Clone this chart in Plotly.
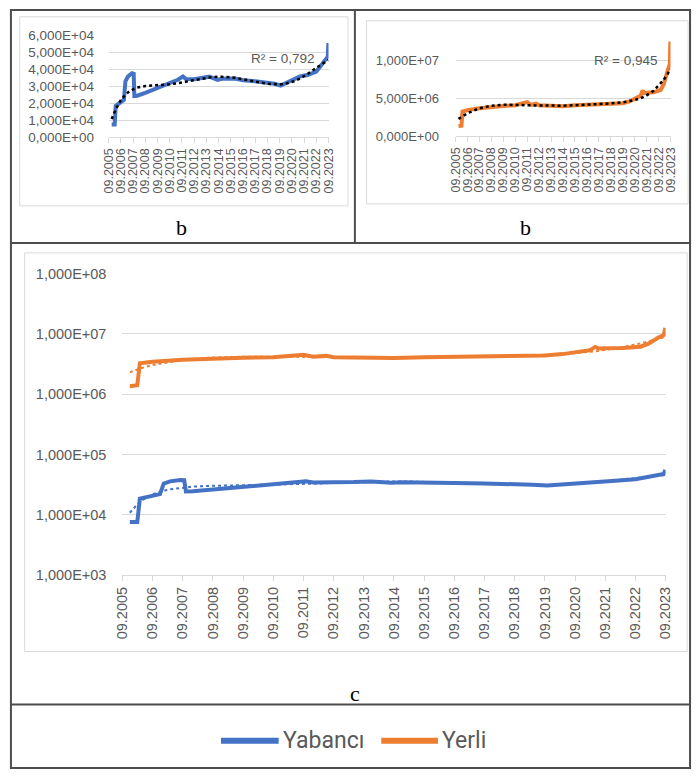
import numpy as np
import pandas as pd
import plotly.graph_objects as go

# ---- data -------------------------------------------------------------
yabanci_dates = [
    "2005-12-01", "2006-03-01", "2006-04-01", "2006-09-01", "2006-12-01",
    "2007-01-15", "2007-04-01", "2007-08-01", "2007-09-20", "2007-10-10",
    "2008-01-01", "2008-09-01", "2009-05-01", "2010-01-01", "2010-09-01",
    "2011-05-01", "2011-10-01", "2012-01-01", "2012-09-01", "2013-05-01",
    "2013-12-01", "2014-08-01", "2014-12-01", "2016-01-01", "2016-09-01",
    "2017-09-01", "2018-09-01", "2019-04-01", "2019-10-01", "2020-04-01",
    "2020-11-01", "2021-05-01", "2022-01-01", "2022-09-01", "2023-02-01",
    "2023-07-01", "2023-08-10", "2023-08-28",
]
yabanci_values = [
    7.6e3, 7.6e3, 1.85e4, 2.05e4, 2.2e4,
    3.3e4, 3.58e4, 3.78e4, 3.75e4, 2.43e4,
    2.45e4, 2.62e4, 2.81e4, 3.02e4, 3.18e4,
    3.39e4, 3.58e4, 3.43e4, 3.42e4, 3.49e4,
    3.57e4, 3.38e4, 3.45e4, 3.46e4, 3.36e4,
    3.30e4, 3.24e4, 3.15e4, 3.05e4, 3.20e4,
    3.39e4, 3.58e4, 3.68e4, 3.87e4, 4.26e4,
    4.64e4, 4.75e4, 5.55e4,
]

yerli_dates = [
    "2005-12-01", "2006-03-01", "2006-04-01", "2006-09-01", "2007-09-01",
    "2008-09-01", "2009-09-01", "2010-09-01", "2011-06-01", "2011-09-01",
    "2012-01-01", "2012-06-01", "2012-09-01", "2013-09-01", "2014-09-01",
    "2015-09-01", "2016-09-01", "2017-09-01", "2018-09-01", "2019-09-01",
    "2020-04-01", "2020-09-01", "2021-03-01", "2021-05-01", "2021-06-15",
    "2021-09-01", "2022-04-01", "2022-11-01", "2023-02-01", "2023-06-01",
    "2023-08-10", "2023-08-28",
]
yerli_values = [
    1.35e6, 1.40e6, 3.25e6, 3.45e6, 3.70e6,
    3.90e6, 4.00e6, 4.10e6, 4.30e6, 4.50e6,
    4.15e6, 4.30e6, 4.10e6, 4.00e6, 3.95e6,
    4.10e6, 4.15e6, 4.20e6, 4.30e6, 4.35e6,
    4.60e6, 4.90e6, 5.35e6, 6.05e6, 5.70e6,
    5.75e6, 5.80e6, 6.10e6, 6.80e6, 8.60e6,
    9.50e6, 1.25e7,
]

year_ticks = [f"{y}-09-01" for y in range(2005, 2024)]
year_labels = [f"09.{y}" for y in range(2005, 2024)]

left_ticks = [0, 1e4, 2e4, 3e4, 4e4, 5e4, 6e4]
left_labels = ["0,000E+00", "1,000E+04", "2,000E+04", "3,000E+04",
               "4,000E+04", "5,000E+04", "6,000E+04"]
right_ticks = [0, 5e6, 1e7]
right_labels = ["0,000E+00", "5,000E+06", "1,000E+07"]
log_ticks = [1e3, 1e4, 1e5, 1e6, 1e7, 1e8]
log_labels = ["1,000E+03", "1,000E+04", "1,000E+05",
              "1,000E+06", "1,000E+07", "1,000E+08"]

r2_yabanci = "R² = 0,792"
r2_yerli = "R² = 0,945"

BLUE = "#4472C4"
ORANGE = "#ED7D31"
GRID = "#d9d9d9"
TXT = "#595959"

W, H = 700, 779


def px(x):
    return x / W


def py(y):
    return 1 - y / H


def poly_trend(dates, values, deg=6):
    """6th-order least-squares trend, each observation weighted by the time
    span it covers so the fit behaves like one on evenly spaced data."""
    t = (pd.to_datetime(dates) - pd.Timestamp("2005-09-01")).days.values / 365.25
    edges = np.concatenate([[t[0]], (t[1:] + t[:-1]) / 2, [t[-1]]])
    span = np.maximum(np.diff(edges), 1e-3)
    tn = (t - t.mean()) / t.std()
    coef = np.polyfit(tn, np.asarray(values, dtype=float), deg, w=np.sqrt(span))
    return np.polyval(coef, tn)


yab_trend = poly_trend(yabanci_dates, yabanci_values)
yer_trend = poly_trend(yerli_dates, yerli_values)

fig = go.Figure()

# top-left: Yabancı (linear)
fig.add_trace(go.Scatter(x=yabanci_dates, y=yabanci_values, mode="lines",
                         line=dict(color=BLUE, width=4), xaxis="x", yaxis="y",
                         showlegend=False))
fig.add_trace(go.Scatter(x=yabanci_dates, y=yab_trend, mode="lines",
                         line=dict(color="black", width=2.5, dash="dot"),
                         xaxis="x", yaxis="y", showlegend=False))

# top-right: Yerli (linear)
fig.add_trace(go.Scatter(x=yerli_dates, y=yerli_values, mode="lines",
                         line=dict(color=ORANGE, width=4), xaxis="x2", yaxis="y2",
                         showlegend=False))
fig.add_trace(go.Scatter(x=yerli_dates, y=yer_trend, mode="lines",
                         line=dict(color="black", width=2.5, dash="dot"),
                         xaxis="x2", yaxis="y2", showlegend=False))

# bottom: both series on a log scale (trend drawn first, series on top)
fig.add_trace(go.Scatter(x=yabanci_dates, y=yab_trend, mode="lines",
                         line=dict(color=BLUE, width=2, dash="dot"),
                         xaxis="x3", yaxis="y3", showlegend=False))
fig.add_trace(go.Scatter(x=yerli_dates, y=yer_trend, mode="lines",
                         line=dict(color=ORANGE, width=2, dash="dot"),
                         xaxis="x3", yaxis="y3", showlegend=False))
fig.add_trace(go.Scatter(x=yabanci_dates, y=yabanci_values, mode="lines",
                         line=dict(color=BLUE, width=4), xaxis="x3", yaxis="y3",
                         name="Yabancı", showlegend=False))
fig.add_trace(go.Scatter(x=yerli_dates, y=yerli_values, mode="lines",
                         line=dict(color=ORANGE, width=4), xaxis="x3", yaxis="y3",
                         name="Yerli", showlegend=False))

xrange = ["2005-09-01", "2023-09-01"]
SANS = "Liberation Sans, Arial, sans-serif"


def xaxis_cfg(dom, anchor, size):
    return dict(domain=dom, anchor=anchor, type="date", range=xrange,
                tickmode="array", tickvals=year_ticks, ticktext=year_labels,
                tickangle=-90, ticks="outside", ticklen=5, tickcolor=GRID,
                showline=True, linecolor=GRID, linewidth=1, showgrid=False,
                zeroline=False, fixedrange=True,
                tickfont=dict(family=SANS, size=size, color=TXT))


def yaxis_cfg(dom, anchor, rng, vals, texts, size, pad, log=False):
    return dict(domain=dom, anchor=anchor, range=rng,
                type="log" if log else "linear",
                tickmode="array", tickvals=vals, ticktext=texts,
                ticks="outside", ticklen=pad, tickcolor="rgba(0,0,0,0)",
                showgrid=True, gridcolor=GRID, gridwidth=1,
                showline=False, zeroline=False, fixedrange=True,
                tickfont=dict(family=SANS, size=size, color=TXT))


fig.update_layout(
    width=W, height=H,
    margin=dict(l=0, r=0, t=0, b=0),
    paper_bgcolor="white", plot_bgcolor="white",
    xaxis=xaxis_cfg([px(103), px(328)], "y", 12.5),
    yaxis=yaxis_cfg([py(132), py(28)], "x", [0, 6e4], left_ticks, left_labels, 13.5, 11),
    xaxis2=xaxis_cfg([px(458), px(678)], "y2", 12.5),
    yaxis2=yaxis_cfg([py(131), py(22.5)], "x2", [0, 1.4e7], right_ticks, right_labels, 13, 13),
    xaxis3=xaxis_cfg([px(117), px(673)], "y3", 14.5),
    yaxis3=yaxis_cfg([py(579), py(271)], "x3", [3, 8], log_ticks, log_labels, 14.5, 12, log=True),
    showlegend=False,
)

# table frame and cell dividers
FRAME = "#4d4d4d"
shapes = [
    dict(type="rect", xref="paper", yref="paper", x0=px(3), x1=px(698),
         y0=py(776), y1=py(2), line=dict(color=FRAME, width=2)),
    dict(type="line", xref="paper", yref="paper", x0=px(355), x1=px(355),
         y0=py(240), y1=py(2), line=dict(color=FRAME, width=2)),
    dict(type="line", xref="paper", yref="paper", x0=px(3), x1=px(698),
         y0=py(240), y1=py(240), line=dict(color=FRAME, width=2)),
    dict(type="line", xref="paper", yref="paper", x0=px(3), x1=px(698),
         y0=py(711), y1=py(711), line=dict(color=FRAME, width=2)),
]
# chart-area outlines
for x0, y0, x1, y1 in [(12, 9, 348, 202), (367, 13, 696, 200), (17, 250, 695, 657)]:
    shapes.append(dict(type="rect", xref="paper", yref="paper",
                       x0=px(x0), x1=px(x1), y0=py(y1), y1=py(y0),
                       line=dict(color=GRID, width=1)))
# legend swatches
for xa, xb, col in [(218, 277, BLUE), (382, 440, ORANGE)]:
    shapes.append(dict(type="line", xref="paper", yref="paper",
                       x0=px(xa), x1=px(xb), y0=py(748), y1=py(748),
                       line=dict(color=col, width=6)))
fig.update_layout(shapes=shapes)

SERIF = "Liberation Serif, Times New Roman, serif"
LEG = "Roboto, Liberation Sans, sans-serif"
annotations = [
    dict(text="b", x=px(178), y=py(224), font=dict(family=SERIF, size=22, color="black")),
    dict(text="b", x=px(530), y=py(224), font=dict(family=SERIF, size=22, color="black")),
    dict(text="c", x=px(355), y=py(700), font=dict(family=SERIF, size=22, color="black")),
    dict(text=r2_yabanci, x=px(281), y=py(52), font=dict(family=SANS, size=13.5, color=TXT)),
    dict(text=r2_yerli, x=px(632), y=py(54), font=dict(family=SANS, size=13.5, color=TXT)),
    dict(text="Yabancı", x=px(279), y=py(748), xanchor="left",
         font=dict(family=LEG, size=23, color=TXT)),
    dict(text="Yerli", x=px(442), y=py(748), xanchor="left",
         font=dict(family=LEG, size=23, color=TXT)),
]
for a in annotations:
    a.setdefault("xanchor", "center")
    a.update(xref="paper", yref="paper", yanchor="middle", showarrow=False)
fig.update_layout(annotations=annotations)

fig.write_html("out.html")
